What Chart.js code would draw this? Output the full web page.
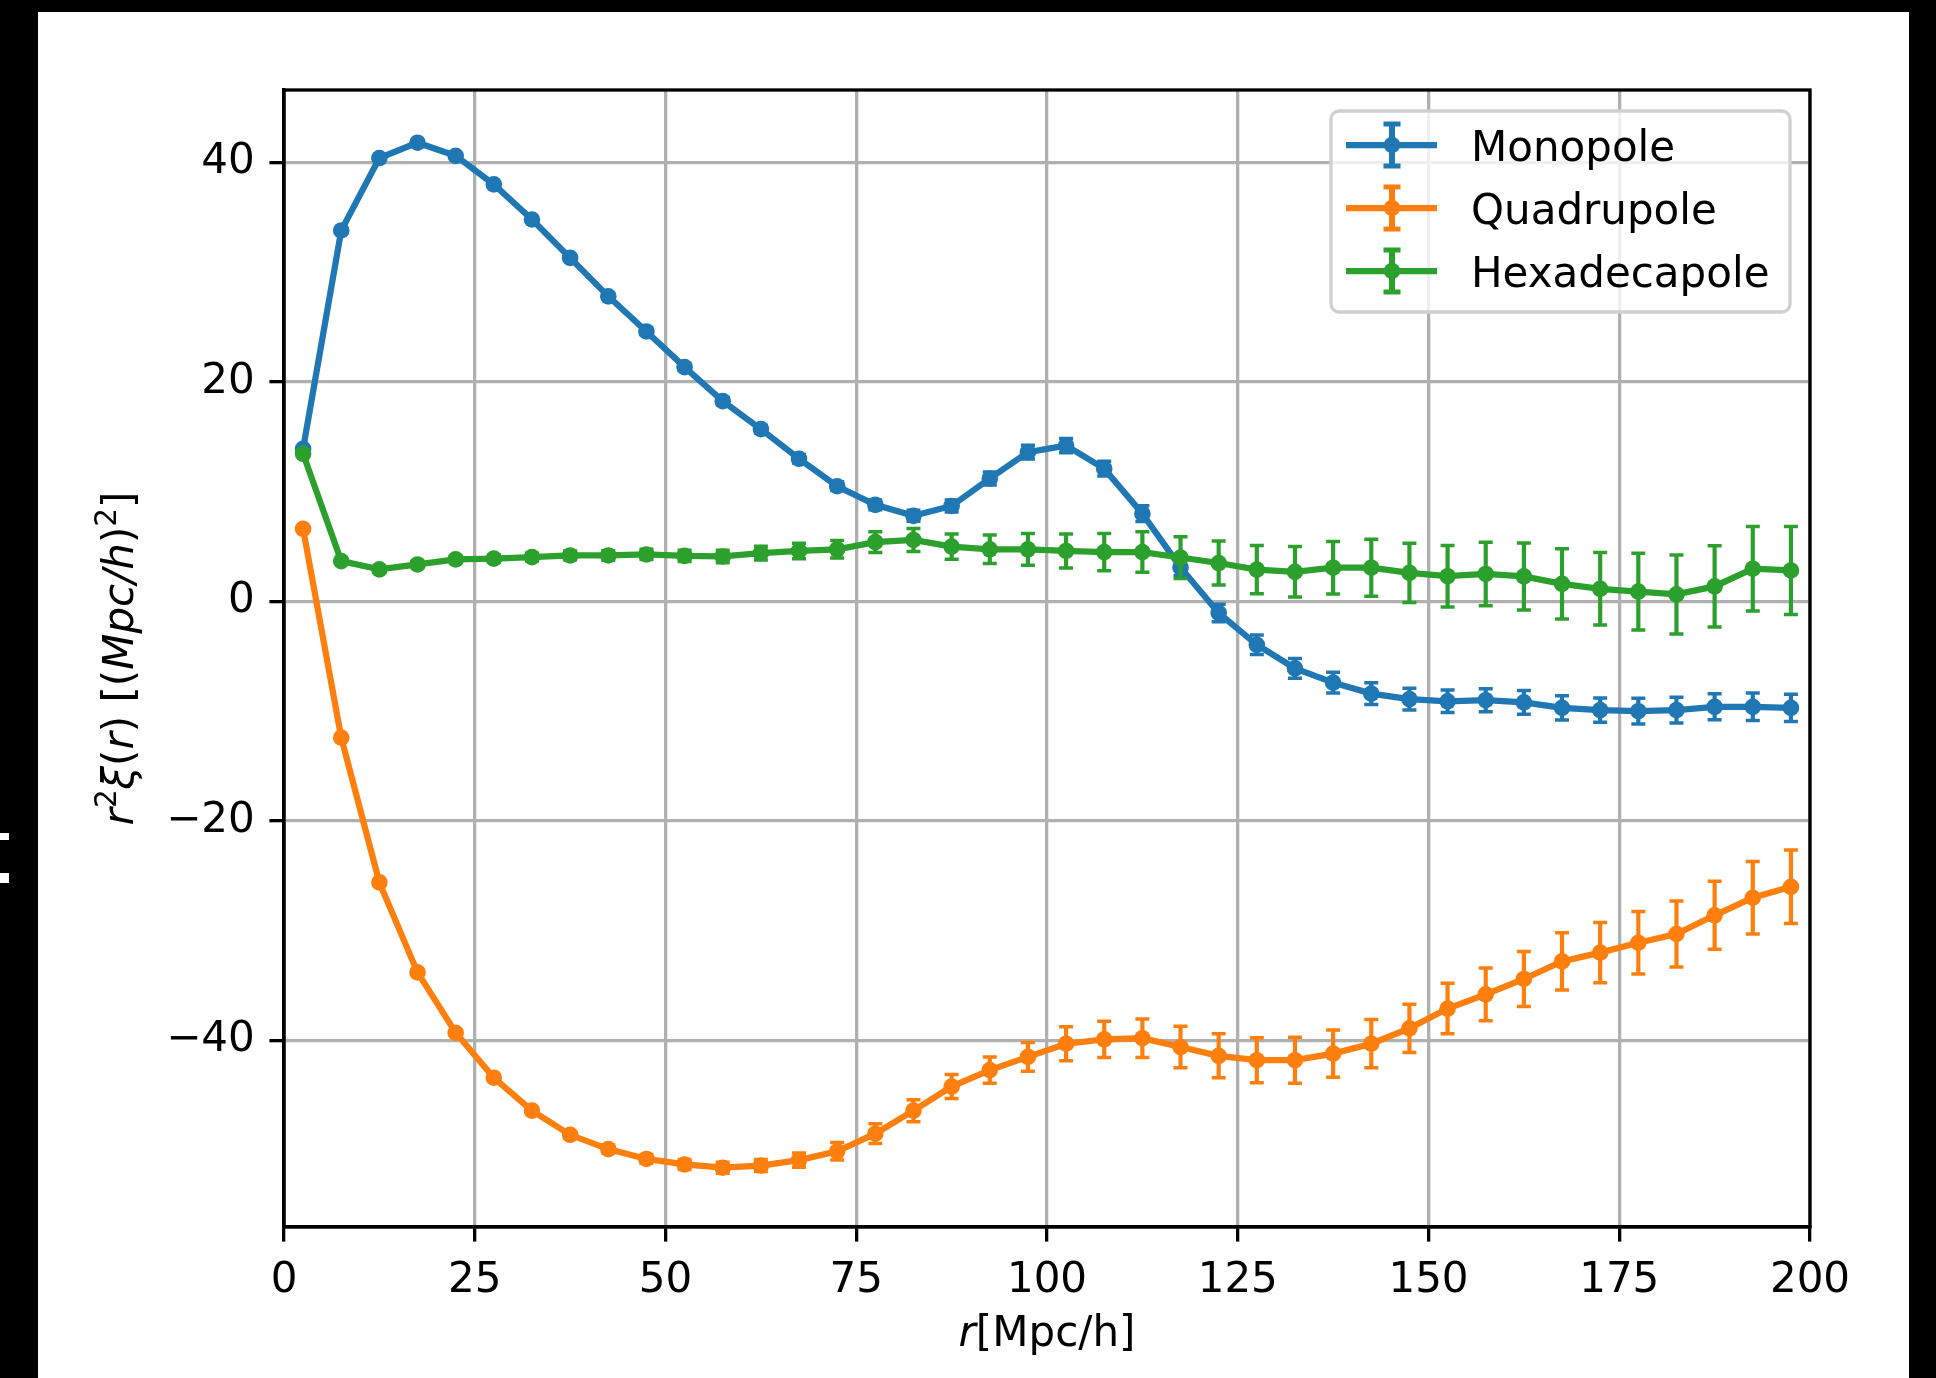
<!DOCTYPE html>
<html>
<head>
<meta charset="utf-8">
<script src="https://cdn.jsdelivr.net/npm/chart.js@4.4.0/dist/chart.umd.min.js"></script>
<style>
html, body { margin:0; padding:0; background:#000; width:1936px; height:1378px; overflow:hidden; }
#wrap { position:absolute; left:38px; top:12px; width:1871px; height:1366px; background:#fff; }
.nick { position:absolute; left:0; width:9px; background:#fff; }
</style>
</head>
<body>
<div class="nick" style="top:833px;height:7px"></div>
<div class="nick" style="top:873px;height:10px"></div>
<div id="wrap"><canvas id="xi" width="1871" height="1366"></canvas></div>
<script>
// separation bins r [Mpc/h]
const r = [2.5, 7.5, 12.5, 17.5, 22.5, 27.5, 32.5, 37.5, 42.5, 47.5,
           52.5, 57.5, 62.5, 67.5, 72.5, 77.5, 82.5, 87.5, 92.5, 97.5,
           102.5, 107.5, 112.5, 117.5, 122.5, 127.5, 132.5, 137.5, 142.5, 147.5,
           152.5, 157.5, 162.5, 167.5, 172.5, 177.5, 182.5, 187.5, 192.5, 197.5];

const monopole = [13.9, 33.8, 40.4, 41.8, 40.6, 38.0, 34.8, 31.3, 27.8, 24.6,
                  21.35, 18.25, 15.7, 13.0, 10.5, 8.8, 7.8, 8.7, 11.2, 13.6,
                  14.2, 12.1, 8.0, 3.1, -1.05, -3.95, -6.1, -7.4, -8.4, -8.9,
                  -9.1, -9.0, -9.2, -9.7, -9.9, -10.0, -9.9, -9.6, -9.6, -9.7];
const monopoleErr = [0.05, 0.08, 0.1, 0.12, 0.15, 0.17, 0.2, 0.22, 0.25, 0.28,
                     0.3, 0.32, 0.35, 0.38, 0.4, 0.45, 0.5, 0.55, 0.6, 0.62,
                     0.65, 0.68, 0.72, 0.75, 0.8, 0.88, 0.9, 0.95, 1.0, 1.0,
                     1.03, 1.05, 1.08, 1.1, 1.1, 1.17, 1.18, 1.18, 1.25, 1.25];

const quadrupole = [6.62, -12.4, -25.6, -33.8, -39.3, -43.4, -46.4, -48.6, -49.9, -50.8,
                    -51.3, -51.6, -51.4, -50.9, -50.1, -48.5, -46.4, -44.2, -42.7, -41.5,
                    -40.3, -39.9, -39.8, -40.6, -41.4, -41.8, -41.8, -41.2, -40.3, -38.9,
                    -37.1, -35.8, -34.4, -32.8, -32.0, -31.1, -30.3, -28.6, -27.0, -26.0];
const quadrupoleErr = [0.1, 0.12, 0.15, 0.18, 0.2, 0.25, 0.28, 0.3, 0.35, 0.4,
                       0.45, 0.5, 0.55, 0.65, 0.8, 0.9, 1.0, 1.1, 1.2, 1.3,
                       1.55, 1.65, 1.75, 1.9, 2.0, 2.05, 2.1, 2.15, 2.2, 2.2,
                       2.3, 2.4, 2.5, 2.6, 2.75, 2.85, 3.0, 3.1, 3.3, 3.35];

const hexadecapole = [13.45, 3.67, 2.92, 3.37, 3.83, 3.9, 4.04, 4.19, 4.19, 4.28,
                      4.15, 4.1, 4.4, 4.6, 4.75, 5.4, 5.6, 5.0, 4.75, 4.75,
                      4.6, 4.5, 4.5, 4.0, 3.5, 2.9, 2.7, 3.07, 3.07, 2.6,
                      2.3, 2.5, 2.28, 1.6, 1.15, 0.9, 0.64, 1.37, 2.98, 2.82];
const hexadecapoleErr = [0.2, 0.2, 0.25, 0.28, 0.3, 0.33, 0.36, 0.4, 0.43, 0.47,
                         0.52, 0.57, 0.63, 0.7, 0.8, 0.95, 1.05, 1.15, 1.3, 1.45,
                         1.55, 1.7, 1.85, 1.9, 2.0, 2.2, 2.3, 2.4, 2.6, 2.7,
                         2.8, 2.9, 3.05, 3.2, 3.3, 3.5, 3.6, 3.7, 3.85, 4.0];

const xTicks = [0, 25, 50, 75, 100, 125, 150, 175, 200];
const yTicks = [-40, -20, 0, 20, 40];

// axis labels as runs: [text, italic, superscript]
const xLabel = [['r', true, false], ['[Mpc/h]', false, false]];
const yLabel = [['r', true, false], ['2', false, true], ['\u03be', true, false], ['(', false, false],
                ['r', true, false], [')', false, false], [' [(', false, false], ['Mpc/h', true, false],
                [')', false, false], ['2', false, true], [']', false, false]];

function pts(ys) {
  return r.map((x, i) => ({x: x, y: ys[i]}))
}
function fmt(v) {
  return String(v).replace('-', '\u2212')
}

function runFont(run) {
  const size = run[2] ? 29.4 : 42;
  return (run[1] ? 'italic ' : '') + size + 'px "DejaVu Sans"';
}
// draws a mixed-style label centred on (0,0) of the current transform
function drawRuns(ctx, runs) {
  let total = 0;
  const widths = runs.map(run => { ctx.font = runFont(run); const w = ctx.measureText(run[0]).width; total += w; return w });
  let x = -total / 2;
  ctx.textBaseline = 'alphabetic';
  ctx.textAlign = 'left';
  runs.forEach((run, i) => {
    ctx.font = runFont(run);
    ctx.fillText(run[0], x, 13 - (run[2] ? 17 : 0));
    x += widths[i];
  });
}

// vertical error bars with caps, drawn under each line
const errorBars = {
  id: 'errorBars',
  beforeDatasetDraw(chart, args) {
    const ds = chart.data.datasets[args.index];
    if (!ds.errors) return;
    const xs = chart.scales.x, ys = chart.scales.y, ctx = chart.ctx;
    ctx.save();
    ctx.strokeStyle = ds.borderColor;
    ds.data.forEach((p, i) => {
      const px = xs.getPixelForValue(p.x);
      const top = ys.getPixelForValue(p.y + ds.errors[i]);
      const bot = ys.getPixelForValue(p.y - ds.errors[i]);
      ctx.lineWidth = 4.2;
      ctx.beginPath(); ctx.moveTo(px, top); ctx.lineTo(px, bot); ctx.stroke();
      ctx.lineWidth = 3.5;
      ctx.beginPath();
      ctx.moveTo(px - 7, top); ctx.lineTo(px + 7, top);
      ctx.moveTo(px - 7, bot); ctx.lineTo(px + 7, bot);
      ctx.stroke();
    });
    ctx.restore();
  }
};

// axes box on top of the data, plus axis labels
const frame = {
  id: 'frame',
  afterDatasetsDraw(chart) {
    const ca = chart.chartArea, ctx = chart.ctx;
    ctx.save();
    ctx.strokeStyle = '#000';
    ctx.lineWidth = 3.3;
    ctx.strokeRect(ca.left, ca.top, ca.right - ca.left, ca.bottom - ca.top);
    ctx.fillStyle = '#000';
    ctx.translate((ca.left + ca.right) / 2, 1321);
    drawRuns(ctx, xLabel);
    ctx.restore();
    ctx.save();
    ctx.fillStyle = '#000';
    ctx.translate(82, (ca.top + ca.bottom) / 2);
    ctx.rotate(-Math.PI / 2);
    drawRuns(ctx, yLabel);
    ctx.restore();
  }
};

// matplotlib-like legend with errorbar handles
const legendBox = {
  id: 'legendBox',
  afterDraw(chart) {
    const ctx = chart.ctx, ca = chart.chartArea;
    const w = 459, h = 201;
    const x0 = ca.right - 20 - w, y0 = ca.top + 21;
    ctx.save();
    ctx.fillStyle = 'rgba(255,255,255,0.8)';
    ctx.strokeStyle = '#d0d0d0';
    ctx.lineWidth = 3.3;
    ctx.beginPath(); ctx.roundRect(x0, y0, w, h, 8); ctx.fill(); ctx.stroke();
    chart.data.datasets.forEach((ds, i) => {
      const cy = y0 + 34 + i * 63;
      const cx = x0 + 61;
      ctx.strokeStyle = ds.borderColor;
      ctx.fillStyle = ds.borderColor;
      ctx.lineWidth = 6.25;
      ctx.beginPath(); ctx.moveTo(x0 + 15, cy); ctx.lineTo(x0 + 106, cy); ctx.stroke();
      ctx.lineWidth = 6;
      ctx.beginPath(); ctx.moveTo(cx, cy - 23); ctx.lineTo(cx, cy + 23); ctx.stroke();
      ctx.lineWidth = 5;
      ctx.beginPath();
      ctx.moveTo(cx - 8.5, cy - 21); ctx.lineTo(cx + 8.5, cy - 21);
      ctx.moveTo(cx - 8.5, cy + 21); ctx.lineTo(cx + 8.5, cy + 21);
      ctx.stroke();
      ctx.beginPath(); ctx.arc(cx, cy, 8.3, 0, Math.PI * 2); ctx.fill();
      ctx.fillStyle = '#000';
      ctx.font = '42px "DejaVu Sans"';
      ctx.textBaseline = 'alphabetic';
      ctx.fillText(ds.label, x0 + 140, cy + 15.5);
    });
    ctx.restore();
  }
};

const tickFont = {family: 'DejaVu Sans', size: 42};
const gridOpts = {color: '#b0b0b0', lineWidth: 3.3, tickColor: '#000', tickWidth: 3.3, tickLength: 14.6};

new Chart(document.getElementById('xi'), {
  type: 'line',
  data: {
    datasets: [
      {label: 'Monopole', data: pts(monopole), errors: monopoleErr,
       borderColor: '#1f77b4', backgroundColor: '#1f77b4', order: 3},
      {label: 'Quadrupole', data: pts(quadrupole), errors: quadrupoleErr,
       borderColor: '#ff7f0e', backgroundColor: '#ff7f0e', order: 2},
      {label: 'Hexadecapole', data: pts(hexadecapole), errors: hexadecapoleErr,
       borderColor: '#2ca02c', backgroundColor: '#2ca02c', order: 1}
    ]
  },
  options: {
    responsive: false,
    animation: false,
    layout: {padding: {left: 40, top: 78, right: 99, bottom: 20}},
    elements: {
      line: {borderWidth: 6.25, tension: 0},
      point: {radius: 8.3, hoverRadius: 8.3, borderWidth: 0}
    },
    plugins: {legend: {display: false}, tooltip: {enabled: false}},
    scales: {
      x: {
        type: 'linear', min: 0, max: 200,
        afterBuildTicks: s => { s.ticks = xTicks.map(v => ({value: v})) },
        afterFit: s => { s.height = 131 },
        grid: gridOpts,
        border: {color: '#000', width: 3.3},
        ticks: {font: tickFont, color: '#000', padding: 14.6, maxRotation: 0, autoSkip: false,
                callback: v => fmt(v)}
      },
      y: {
        type: 'linear', min: -57.0, max: 46.6,
        afterBuildTicks: s => { s.ticks = yTicks.map(v => ({value: v})) },
        afterFit: s => { s.width = 206 },
        grid: gridOpts,
        border: {color: '#000', width: 3.3},
        ticks: {font: tickFont, color: '#000', padding: 14.6, autoSkip: false,
                callback: v => fmt(v)}
      }
    }
  },
  plugins: [errorBars, frame, legendBox]
});
</script>
</body>
</html>
